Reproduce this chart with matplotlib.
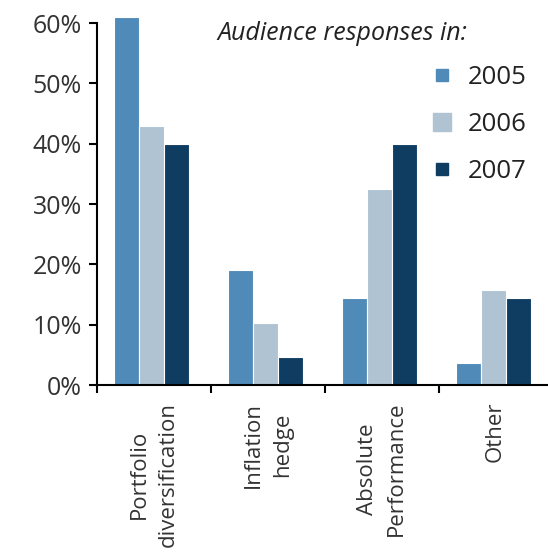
import numpy as np
import matplotlib.pyplot as plt
from matplotlib.lines import Line2D

plt.rcParams['font.family'] = ['Open Sans', 'DejaVu Sans']

categories = ["Portfolio\ndiversification", "Inflation\nhedge", "Absolute\nPerformance", "Other"]
years = ["2005", "2006", "2007"]
v2005 = [61, 19, 14.5, 3.6]
v2006 = [43, 10.3, 32.5, 15.8]
v2007 = [40, 4.7, 40, 14.5]
colors = ["#4f8ab8", "#afc3d3", "#0f3d62"]

fig = plt.figure(figsize=(5.48, 5.54), dpi=100)
ax = fig.add_axes([0.177, 0.305, 0.823, 0.675])

x = np.arange(len(categories))
w = 0.22
for i, vals in enumerate([v2005, v2006, v2007]):
    ax.bar(x - 0.02 + (i - 1) * w, vals, w, color=colors[i], edgecolor="white", linewidth=0.8)

ax.set_ylim(0, 62)
ax.set_xlim(-0.5, 3.46)
ax.set_yticks(np.arange(0, 61, 10))
ax.set_yticklabels([f"{v}%" for v in range(0, 61, 10)], fontsize=18, color="#333333")
ax.spines["left"].set_bounds(0, 60)
ax.spines["top"].set_visible(False)
ax.spines["right"].set_visible(False)
for s in ["left", "bottom"]:
    ax.spines[s].set_linewidth(1.5)

ax.set_xticks(x)
ax.set_xticklabels(categories, rotation=90, fontsize=16, color="#333333",
                   ha="center", va="top", multialignment="center", linespacing=1.5)
ax.tick_params(axis="x", which="major", length=0, pad=12)
ax.set_xticks(np.arange(-0.5, 3, 1), minor=True)
ax.tick_params(axis="x", which="minor", length=6, width=1.5, direction="out")
ax.tick_params(axis="y", length=6, width=1.5, direction="out", pad=5)

ax.text(0.396, 0.94, "Audience responses in:", transform=fig.transFigure,
        fontsize=18, style="italic", color="#222222", va="center")

sizes = [9, 13, 9]
handles = [Line2D([], [], marker="s", linestyle="none", color=colors[i],
                  markersize=sizes[i]) for i in range(3)]
leg = fig.legend(handles, years, loc="upper left", bbox_to_anchor=(0.759, 0.905),
                 frameon=False, fontsize=18.5, handlelength=1.0, handletextpad=0.5,
                 labelspacing=0.85, borderpad=0)
for t in leg.get_texts():
    t.set_color("#222222")

fig.savefig("out.png", dpi=100)
